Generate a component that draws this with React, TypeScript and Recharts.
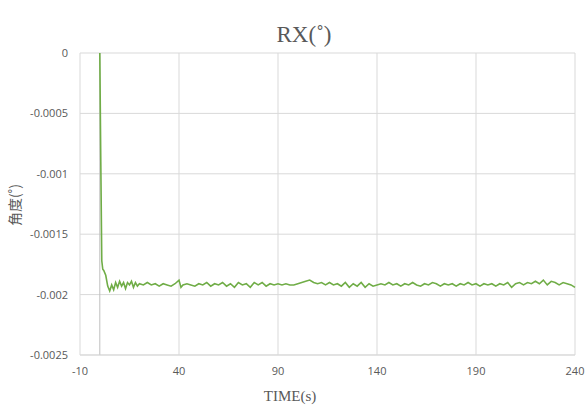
import React from 'react';
import { LineChart, Line, XAxis, YAxis, CartesianGrid, ReferenceLine } from 'recharts';

// Sample times (s)
const times: number[] = [
  0, 0.5, 1, 1.5, 2, 3, 4, 5, 6, 7, 8, 9, 10, 11, 12, 13, 14, 15, 16, 17, 18, 19, 20,
  22, 24, 26, 28, 30, 32, 34, 36, 38, 40, 41, 42, 44, 46, 48, 50, 52, 54, 56, 58,
  60, 62, 64, 66, 68, 70, 72, 74, 76, 78, 80, 82, 84, 86, 88, 90, 92, 94, 96, 98,
  100, 102, 104, 106, 108, 110, 112, 114, 116, 118, 120, 122, 124, 126, 128, 130,
  132, 134, 136, 138, 140, 142, 144, 146, 148, 150, 152, 154, 156, 158, 160, 162,
  164, 166, 168, 170, 172, 174, 176, 178, 180, 182, 184, 186, 188, 190, 192, 194,
  196, 198, 200, 202, 204, 206, 208, 210, 212, 214, 216, 218, 220, 222, 224, 226,
  228, 230, 232, 234, 236, 238, 240,
];

// RX angle (deg)
const rx: number[] = [
  0, -0.0009, -0.00172, -0.00179, -0.0018, -0.00184, -0.00193, -0.00197, -0.00192, -0.00196,
  -0.0019, -0.00194, -0.00189, -0.00193, -0.0019, -0.00195, -0.0019, -0.00192, -0.00189,
  -0.00194, -0.0019, -0.00193, -0.00191,
  -0.00192, -0.0019, -0.00192, -0.00191, -0.00193, -0.00191, -0.00192, -0.00193, -0.00191,
  -0.00188, -0.00194, -0.00192, -0.00191, -0.00192, -0.00193, -0.00191, -0.00192, -0.0019,
  -0.00193, -0.00191,
  -0.00192, -0.0019, -0.00193, -0.00191, -0.00194, -0.0019, -0.00192, -0.00191, -0.00194,
  -0.0019, -0.00192, -0.0019, -0.00193, -0.00191, -0.00192, -0.00191, -0.00192, -0.00191,
  -0.00192, -0.00192,
  -0.00191, -0.0019, -0.00189, -0.00188, -0.0019, -0.00191, -0.0019, -0.00192, -0.0019,
  -0.00192, -0.00191, -0.00193, -0.0019, -0.00194, -0.00191, -0.00193,
  -0.0019, -0.00194, -0.00191, -0.00193, -0.00192, -0.00191, -0.00192, -0.0019, -0.00192,
  -0.00191, -0.00193, -0.00191, -0.00192, -0.0019, -0.00192, -0.00193,
  -0.00191, -0.00192, -0.0019, -0.00191, -0.00193, -0.00191, -0.00192, -0.00191, -0.00193,
  -0.00191, -0.00192, -0.0019, -0.00192, -0.00191, -0.00193, -0.00191,
  -0.00192, -0.00191, -0.00193, -0.00191, -0.00192, -0.0019, -0.00194, -0.00191, -0.0019,
  -0.00192, -0.0019, -0.00191, -0.00189, -0.00191, -0.00188, -0.00192,
  -0.00189, -0.0019, -0.00192, -0.0019, -0.00191, -0.00192, -0.00194,
];

const xTicks: number[] = [-10, 40, 90, 140, 190, 240];
const yTicks: number[] = [0, -0.0005, -0.001, -0.0015, -0.002, -0.0025];

const data = times.map((t, i) => ({ t, rx: rx[i] }));

const tickStyle = { fill: '#595959', fontSize: 11, fontFamily: '"Open Sans", "Noto Sans", sans-serif' };

export default function App() {
  return (
    <div style={{ position: 'absolute', left: 0, top: 0, width: 587, height: 410, background: '#fff' }}>
      <LineChart width={587} height={410} data={data} margin={{ top: 53, right: 12, bottom: 25, left: 0 }}>
        <CartesianGrid stroke="#d9d9d9" strokeWidth={1} horizontalValues={yTicks} verticalValues={xTicks} />
        <XAxis
          dataKey="t"
          type="number"
          domain={[-10, 240]}
          ticks={xTicks}
          tick={tickStyle}
          tickLine={false}
          axisLine={{ stroke: '#d9d9d9' }}
          height={30}
          tickMargin={6}
        />
        <YAxis
          type="number"
          domain={[-0.0025, 0]}
          ticks={yTicks}
          tick={tickStyle}
          tickLine={false}
          axisLine={false}
          width={80}
          tickMargin={6}
        />
        <ReferenceLine x={0} stroke="#bfbfbf" strokeWidth={1} />
        <Line
          type="linear"
          dataKey="rx"
          stroke="#70ad47"
          strokeWidth={1.6}
          dot={false}
          isAnimationActive={false}
        />
        <text x={304} y={42} textAnchor="middle" fill="#595959" fontSize={23} fontFamily='"Liberation Serif", "DejaVu Serif", serif'>
          RX(˚)
        </text>
        <text
          x={20}
          y={205}
          textAnchor="middle"
          fill="#595959"
          fontSize={14}
          fontFamily='"Noto Sans CJK SC", sans-serif'
          transform="rotate(-90 20 205)"
        >
          角度(˚)
        </text>
        <text x={290} y={401} textAnchor="middle" fill="#595959" fontSize={15} fontFamily='"Liberation Serif", "DejaVu Serif", serif'>
          TIME(s)
        </text>
      </LineChart>
    </div>
  );
}
